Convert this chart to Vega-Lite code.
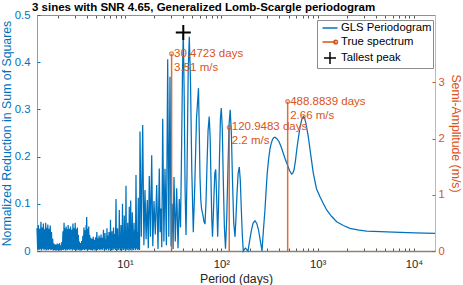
{
"$schema": "https://vega.github.io/schema/vega-lite/v6.json",
"width": 398, "height": 236,
"autosize": {"type": "none"},
"padding": {"left": 37, "top": 15, "right": 28, "bottom": 34},
"background": "white",
"title": {"text": "3 sines with SNR 4.65, Generalized Lomb-Scargle periodogram", "anchor": "start", "frame": "group", "dx": -5, "offset": -4, "fontSize": 11.5, "fontWeight": "bold", "font": "Liberation Sans", "color": "#000000"},
"config": {
  "font": "Liberation Sans",
  "view": {"stroke": null},
  "axis": {"grid": false, "labelFont": "Liberation Sans", "titleFont": "Liberation Sans", "labelFontSize": 11.3, "titleFontSize": 12.3, "titleFontWeight": "normal", "tickWidth": 1, "domainWidth": 1, "labelOverlap": false, "labelFlush": false}
},
"datasets": {
"gls": [
{"p":1.22,"g":0.048},{"p":1.24,"g":0.003},{"p":1.26,"g":0.055},{"p":1.28,"g":0.002},{"p":1.30,"g":0.047},{"p":1.32,"g":0.004},{"p":1.34,"g":0.062},{"p":1.36,"g":0.001},{"p":1.38,"g":0.050},{"p":1.40,"g":0.005},{"p":1.42,"g":0.058},{"p":1.44,"g":0.002},{"p":1.46,"g":0.046},{"p":1.48,"g":0.004},{"p":1.50,"g":0.060},{"p":1.52,"g":0.001},{"p":1.54,"g":0.049},{"p":1.56,"g":0.003},{"p":1.58,"g":0.056},{"p":1.60,"g":0.002},
{"p":1.625,"g":0.047},{"p":1.65,"g":0.004},{"p":1.675,"g":0.054},{"p":1.70,"g":0.002},{"p":1.725,"g":0.040},{"p":1.75,"g":0.003},{"p":1.775,"g":0.026},{"p":1.80,"g":0.001},{"p":1.825,"g":0.016},{"p":1.85,"g":0.002},{"p":1.875,"g":0.014},{"p":1.90,"g":0.001},{"p":1.925,"g":0.013},{"p":1.95,"g":0.001},{"p":1.975,"g":0.016},{"p":2.00,"g":0.002},
{"p":2.03,"g":0.014},{"p":2.06,"g":0.001},{"p":2.09,"g":0.017},{"p":2.12,"g":0.002},{"p":2.15,"g":0.012},{"p":2.18,"g":0.001},{"p":2.21,"g":0.019},{"p":2.24,"g":0.003},{"p":2.27,"g":0.042},{"p":2.30,"g":0.002},{"p":2.33,"g":0.060},{"p":2.36,"g":0.004},{"p":2.39,"g":0.048},{"p":2.42,"g":0.001},{"p":2.45,"g":0.052},{"p":2.48,"g":0.003},{"p":2.51,"g":0.046},{"p":2.54,"g":0.002},{"p":2.57,"g":0.055},{"p":2.60,"g":0.004},
{"p":2.64,"g":0.047},{"p":2.68,"g":0.002},{"p":2.72,"g":0.052},{"p":2.76,"g":0.004},{"p":2.80,"g":0.045},{"p":2.84,"g":0.001},{"p":2.88,"g":0.058},{"p":2.92,"g":0.003},{"p":2.96,"g":0.048},{"p":3.00,"g":0.002},{"p":3.04,"g":0.060},{"p":3.08,"g":0.004},{"p":3.12,"g":0.046},{"p":3.16,"g":0.001},{"p":3.20,"g":0.050},{"p":3.24,"g":0.003},{"p":3.28,"g":0.034},{"p":3.32,"g":0.002},{"p":3.36,"g":0.020},{"p":3.40,"g":0.001},
{"p":3.45,"g":0.017},{"p":3.50,"g":0.001},{"p":3.55,"g":0.021},{"p":3.60,"g":0.002},{"p":3.65,"g":0.032},{"p":3.70,"g":0.003},{"p":3.75,"g":0.050},{"p":3.80,"g":0.002},{"p":3.85,"g":0.044},{"p":3.90,"g":0.003},{"p":3.95,"g":0.055},{"p":3.975,"g":0.004},{"p":4.00,"g":0.072},{"p":4.05,"g":0.002},{"p":4.10,"g":0.047},{"p":4.15,"g":0.002},{"p":4.20,"g":0.052},{"p":4.25,"g":0.004},{"p":4.30,"g":0.034},{"p":4.35,"g":0.002},{"p":4.40,"g":0.028},
{"p":4.47,"g":0.002},{"p":4.54,"g":0.026},{"p":4.61,"g":0.001},{"p":4.68,"g":0.030},{"p":4.75,"g":0.003},{"p":4.82,"g":0.024},{"p":4.89,"g":0.001},{"p":4.96,"g":0.029},{"p":5.03,"g":0.003},{"p":5.10,"g":0.040},{"p":5.17,"g":0.002},{"p":5.24,"g":0.027},{"p":5.31,"g":0.004},{"p":5.38,"g":0.033},{"p":5.45,"g":0.002},{"p":5.52,"g":0.028},{"p":5.58,"g":0.003},
{"p":5.64,"g":0.035},{"p":5.72,"g":0.003},{"p":5.80,"g":0.028},{"p":5.89,"g":0.002},{"p":5.98,"g":0.045},{"p":6.04,"g":0.006},{"p":6.10,"g":0.030},{"p":6.15,"g":0.001},{"p":6.20,"g":0.038},{"p":6.27,"g":0.004},{"p":6.35,"g":0.025},{"p":6.42,"g":0.002},{"p":6.50,"g":0.048},{"p":6.58,"g":0.005},{"p":6.66,"g":0.032},{"p":6.74,"g":0.001},{"p":6.82,"g":0.040},{"p":6.88,"g":0.006},{"p":6.95,"g":0.030},{"p":7.01,"g":0.002},
{"p":7.07,"g":0.066},{"p":7.14,"g":0.004},{"p":7.21,"g":0.034},{"p":7.27,"g":0.001},{"p":7.33,"g":0.042},{"p":7.40,"g":0.006},{"p":7.47,"g":0.028},{"p":7.53,"g":0.002},{"p":7.60,"g":0.050},{"p":7.72,"g":0.005},{"p":7.84,"g":0.036},{"p":7.95,"g":0.002},{"p":8.07,"g":0.110},{"p":8.14,"g":0.006},{"p":8.22,"g":0.032},{"p":8.29,"g":0.001},{"p":8.36,"g":0.048},{"p":8.45,"g":0.004},{"p":8.54,"g":0.030},{"p":8.63,"g":0.002},
{"p":8.73,"g":0.087},{"p":8.81,"g":0.006},{"p":8.89,"g":0.038},{"p":8.99,"g":0.001},{"p":9.09,"g":0.055},{"p":9.17,"g":0.004},{"p":9.26,"g":0.030},{"p":9.34,"g":0.002},{"p":9.42,"g":0.100},{"p":9.51,"g":0.006},{"p":9.60,"g":0.040},{"p":9.71,"g":0.002},{"p":9.83,"g":0.075},{"p":9.94,"g":0.005},{"p":10.05,"g":0.035},{"p":10.14,"g":0.001},
{"p":10.24,"g":0.138},{"p":10.35,"g":0.004},{"p":10.46,"g":0.038},{"p":10.56,"g":0.002},{"p":10.67,"g":0.060},{"p":10.77,"g":0.006},{"p":10.87,"g":0.040},{"p":10.97,"g":0.001},{"p":11.08,"g":0.094},{"p":11.17,"g":0.004},{"p":11.27,"g":0.030},{"p":11.36,"g":0.002},{"p":11.46,"g":0.107},{"p":11.57,"g":0.006},{"p":11.68,"g":0.042},{"p":11.79,"g":0.001},{"p":11.91,"g":0.082},{"p":12.04,"g":0.004},{"p":12.17,"g":0.035},{"p":12.28,"g":0.002},
{"p":12.40,"g":0.060},{"p":12.55,"g":0.006},{"p":12.70,"g":0.045},{"p":12.85,"g":0.002},{"p":13.01,"g":0.161},{"p":13.2,"g":0.005},{"p":13.39,"g":0.040},{"p":13.56,"g":0.002},{"p":13.74,"g":0.113},{"p":13.87,"g":0.004},{"p":14.01,"g":0.030},{"p":14.16,"g":0.002},
{"p":14.31,"g":0.253},{"p":14.77,"g":0.030},{"p":15.27,"g":0.267},{"p":15.71,"g":0.012},{"p":16.13,"g":0.129},{"p":16.56,"g":0.025},{"p":17.04,"g":0.108},{"p":17.46,"g":0.006},{"p":17.88,"g":0.159},{"p":18.40,"g":0.030},{"p":18.94,"g":0.203},{"p":19.44,"g":0.010},
{"p":20.0,"g":0.106},{"p":20.64,"g":0.035},{"p":21.34,"g":0.140},{"p":22.02,"g":0.004},{"p":22.71,"g":0.175},{"p":23.15,"g":0.040},{"p":23.65,"g":0.090},{"p":24.11,"g":0.008},{"p":24.64,"g":0.280},{"p":25.35,"g":0.020},{"p":26.03,"g":0.174},{"p":26.91,"g":0.012},{"p":27.76,"g":0.406},{"p":28.50,"g":0.030},{"p":29.33,"g":0.369},{"p":30.11,"g":0.010},{"p":30.91,"g":0.100},{"p":31.59,"g":0.004},{"p":32.27,"g":0.157},{"p":33.29,"g":0.020},{"p":34.43,"g":0.133},{"p":35.52,"g":0.006},{"p":36.64,"g":0.110},{"p":37.70,"g":0.050},
{"p":38.61,"g":0.200},{"p":39.55,"g":0.380},{"p":40.31,"g":0.463},{"p":41.18,"g":0.330},{"p":42.09,"g":0.130},{"p":43.0,"g":0.034},{"p":44.04,"g":0.160},{"p":45.32,"g":0.380},{"p":46.53,"g":0.454},{"p":47.89,"g":0.360},{"p":49.40,"g":0.170},{"p":51.19,"g":0.040},{"p":53.07,"g":0.140},{"p":55.28,"g":0.280},{"p":57.97,"g":0.345},{"p":59.09,"g":0.250},{"p":60.1,"g":0.157},{"p":61.2,"g":0.110},{"p":62.3,"g":0.090},{"p":64.6,"g":0.075},{"p":66.2,"g":0.062},{"p":67.7,"g":0.057},
{"p":69.3,"g":0.100},{"p":71.0,"g":0.180},{"p":72.9,"g":0.255},{"p":74.9,"g":0.285},{"p":76.6,"g":0.240},{"p":78.2,"g":0.150},{"p":79.6,"g":0.070},{"p":81.0,"g":0.030},{"p":82.5,"g":0.070},{"p":84.0,"g":0.120},{"p":85.7,"g":0.165},{"p":87.5,"g":0.173},{"p":89.6,"g":0.110},{"p":91.7,"g":0.030},{"p":93.7,"g":0.100},{"p":95.8,"g":0.200},{"p":97.9,"g":0.280},{"p":100.0,"g":0.303},{"p":102.4,"g":0.260},{"p":104.9,"g":0.150},{"p":107.7,"g":0.050},{"p":110.6,"g":0.005},
{"p":113.9,"g":0.070},{"p":117.4,"g":0.180},{"p":120.6,"g":0.270},{"p":123.7,"g":0.299},{"p":127.2,"g":0.250},{"p":130.7,"g":0.150},{"p":134.6,"g":0.060},{"p":138.8,"g":0.030},{"p":142,"g":0.070},{"p":145.5,"g":0.120},{"p":149.6,"g":0.165},{"p":153.8,"g":0.178},{"p":157.5,"g":0.150},{"p":161.3,"g":0.090},{"p":165.2,"g":0.035},{"p":169.2,"g":0.0},
{"p":174,"g":0.004},{"p":178.4,"g":0.006},{"p":184,"g":0.003},{"p":189.4,"g":0.0},{"p":197,"g":0.022},{"p":205.9,"g":0.045},{"p":214,"g":0.059},{"p":223.9,"g":0.064},{"p":233,"g":0.059},{"p":243.4,"g":0.045},{"p":254,"g":0.022},{"p":264.7,"g":0.0},
{"p":274,"g":0.045},{"p":284,"g":0.087},{"p":292,"g":0.128},{"p":300,"g":0.165},{"p":310,"g":0.195},{"p":320,"g":0.216},{"p":330,"g":0.228},{"p":340,"g":0.236},{"p":350,"g":0.240},{"p":361,"g":0.241},{"p":378,"g":0.238},{"p":397,"g":0.232},{"p":418,"g":0.221},{"p":440,"g":0.207},{"p":463,"g":0.194},{"p":487,"g":0.182},{"p":512,"g":0.170},{"p":538,"g":0.163},{"p":553,"g":0.165},{"p":569,"g":0.172},{"p":588,"g":0.190},{"p":607,"g":0.214},{"p":632,"g":0.240},{"p":657,"g":0.262},{"p":684,"g":0.278},{"p":711,"g":0.285},{"p":734,"g":0.281},{"p":758,"g":0.270},{"p":801,"g":0.242},{"p":854,"g":0.200},{"p":902,"g":0.165},{"p":974,"g":0.132},{"p":1059,"g":0.115},{"p":1150,"g":0.100},{"p":1243,"g":0.087},{"p":1400,"g":0.073},{"p":1579,"g":0.062},{"p":1850,"g":0.054},{"p":2170,"g":0.048},{"p":2700,"g":0.044},{"p":3235,"g":0.042},{"p":4500,"g":0.041},{"p":6110,"g":0.040},{"p":10270,"g":0.0385},{"p":16560,"g":0.0375}
],
"stems": [
{"p":30.4723,"a":3.51,"t":"30.4723 days\n3.51 m/s"},
{"p":120.9483,"a":2.2,"t":"120.9483 days\n2.2 m/s"},
{"p":488.8839,"a":2.66,"t":"488.8839 days\n2.66 m/s"}
],
"legend": [
{"s":"GLS Periodogram","p":40.31,"g":0.463},
{"s":"True spectrum","p":40.31,"g":0.463},
{"s":"Tallest peak","p":40.31,"g":0.463}
]
},
"layer": [
 {"layer": [
  {"data": {"name": "gls"},
   "mark": {"type": "line", "color": "#0072BD", "strokeWidth": 1.25},
   "encoding": {
    "x": {"field": "p", "type": "quantitative", "scale": {"type": "log", "domain": [1.22, 16560], "nice": false},
          "axis": {"orient": "bottom", "values": [2,3,4,5,6,7,8,9,10,20,30,40,50,60,70,80,90,100,200,300,400,500,600,700,800,900,1000,2000,3000,4000,5000,6000,7000,8000,9000,10000],
                   "labelExpr": "datum.value==10?'10¹':datum.value==100?'10²':datum.value==1000?'10³':datum.value==10000?'10⁴':''",
                   "tickSize": -3, "tickColor": "#555555", "domainColor": "#8f8079", "domainWidth": 1.5, "labelPadding": 10, "labelColor": "#262626",
                   "title": "Period (days)", "titleColor": "#262626", "titlePadding": 3}},
    "y": {"field": "g", "type": "quantitative", "scale": {"domain": [0, 0.5], "nice": false},
          "axis": {"orient": "left", "values": [0,0.1,0.2,0.3,0.4,0.5], "format": ".1~f", "tickSize": -3, "tickColor": "#0072BD", "domainColor": "#0072BD", "domainOpacity": 0.6,
                   "labelColor": "#0072BD", "labelPadding": 10, "title": "Normalized Reduction in Sum of Squares", "titleColor": "#0072BD", "titlePadding": 1}}
   }},
  {"data": {"name": "legend"},
   "mark": {"type": "point", "filled": false, "strokeWidth": 2, "size": 225},
   "encoding": {
    "x": {"field": "p", "type": "quantitative", "title": "Period (days)"},
    "y": {"field": "g", "type": "quantitative", "title": "Normalized Reduction in Sum of Squares"},
    "color": {"field": "s", "type": "nominal",
              "scale": {"domain": ["GLS Periodogram", "True spectrum", "Tallest peak"], "range": ["#0072BD", "#D95319", "#000000"]},
              "legend": {"title": null, "orient": "none", "legendX": 280, "legendY": 5, "padding": 1, "symbolOffset": 5, "symbolSize": 144, "symbolStrokeWidth": 1.5, "symbolOpacity": 1,
                         "labelFontSize": 11.3, "labelFont": "Liberation Sans", "labelColor": "#000000", "labelOffset": 4, "rowPadding": 1, "fillColor": "#ffffff", "strokeColor": "#8c8c8c", "labelLimit": 200}},
    "shape": {"field": "s", "type": "nominal",
              "scale": {"domain": ["GLS Periodogram", "True spectrum", "Tallest peak"], "range": ["M-1.25,0H1.25", "M-1.25,0H0.95M1.25,0A0.3,0.3,0,1,1,0.65,0A0.3,0.3,0,1,1,1.25,0", "M-1,0H1M0,-1V1"]},
              "legend": {"title": null, "orient": "none", "legendX": 280, "legendY": 5, "padding": 1, "symbolOffset": 5, "symbolSize": 144, "symbolStrokeWidth": 1.5, "symbolOpacity": 1,
                         "labelFontSize": 11.3, "labelFont": "Liberation Sans", "labelColor": "#000000", "labelOffset": 4, "rowPadding": 1, "fillColor": "#ffffff", "strokeColor": "#8c8c8c", "labelLimit": 200}},
    "opacity": {"condition": {"test": "datum.s==='Tallest peak'", "value": 1}, "value": 0}
   }}
 ]},
 {"layer": [
  {"data": {"name": "stems"},
   "mark": {"type": "rule", "color": "#D95319", "strokeWidth": 1.5, "opacity": 0.85},
   "encoding": {
    "x": {"field": "p", "type": "quantitative", "axis": {"orient": "top", "values": [2,3,4,5,6,7,8,9,10,20,30,40,50,60,70,80,90,100,200,300,400,500,600,700,800,900,1000,2000,3000,4000,5000,6000,7000,8000,9000,10000], "labels": false, "tickSize": -3, "tickColor": "#555555", "domainColor": "#8f8f8f", "title": null}},
    "y": {"field": "a", "type": "quantitative", "scale": {"domain": [0, 4.2], "nice": false},
          "axis": {"orient": "right", "values": [0,1,2,3], "format": "d", "tickSize": -3, "tickColor": "#D95319", "domainColor": "#D95319", "domainOpacity": 0.5,
                   "labelColor": "#D95319", "labelPadding": 6, "title": "Semi-Amplitude (m/s)", "titleColor": "#D95319", "titlePadding": 4}},
    "y2": {"datum": 0}
   }},
  {"data": {"name": "stems"},
   "mark": {"type": "point", "shape": "circle", "filled": false, "color": "#D95319", "size": 14, "strokeWidth": 1.3},
   "encoding": {
    "x": {"field": "p", "type": "quantitative"},
    "y": {"field": "a", "type": "quantitative"}
   }},
  {"data": {"name": "stems"},
   "mark": {"type": "text", "align": "left", "baseline": "middle", "dx": 2.5, "fontSize": 11.5, "lineHeight": 14, "lineBreak": "\n", "color": "#D95319", "font": "Liberation Sans"},
   "encoding": {
    "x": {"field": "p", "type": "quantitative"},
    "y": {"field": "a", "type": "quantitative"},
    "text": {"field": "t"}
   }}
 ]}
],
"resolve": {"scale": {"y": "independent"}, "axis": {"x": "independent"}}
}
